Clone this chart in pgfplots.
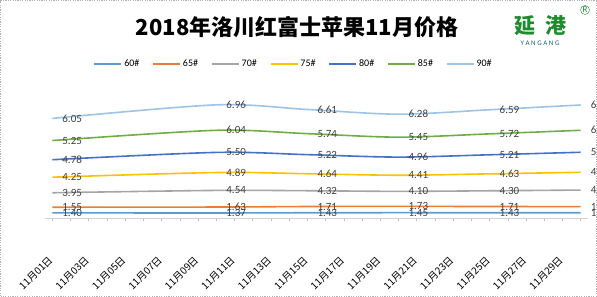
\documentclass[border=0pt]{standalone}
\usepackage{fontspec}
\setmainfont{Carlito}
\newfontfamily\cjk{Noto Sans CJK SC}
\usepackage{pgfplots}
\usepackage{pgfplotstable}
\pgfplotsset{compat=1.18}
\definecolor{cA}{HTML}{5B9BD5}
\definecolor{cB}{HTML}{ED7D31}
\definecolor{cC}{HTML}{A5A5A5}
\definecolor{cD}{HTML}{FFC000}
\definecolor{cE}{HTML}{4472C4}
\definecolor{cF}{HTML}{70AD47}
\definecolor{cG}{HTML}{9DC3E6}
\definecolor{logogreen}{HTML}{1E8C2E}
\pgfplotstableread{
x  a    b    c    d    e    f    g
1  1.40 1.55 3.95 4.25 4.78 5.25 6.05
10 1.37 1.63 4.54 4.89 5.50 6.04 6.96
15 1.43 1.71 4.32 4.64 5.22 5.74 6.61
20 1.45 1.73 4.10 4.41 4.96 5.45 6.28
25 1.43 1.71 4.30 4.63 5.21 5.72 6.59
30 1.43 1.69 4.52 4.86 5.47 6.01 6.92
}\prices
\begin{document}
\begin{tikzpicture}
\path[use as bounding box] (0pt,0pt) rectangle (597pt,297pt);
\draw[gray!60, line width=1.2pt, dash pattern=on 1.2pt off 1.2pt] (0.8pt,0.8pt) rectangle (596.2pt,296.2pt);
\node[font=\cjk\bfseries\fontsize{22}{22}\selectfont] at (297pt,270pt) {2018年洛川红富士苹果11月价格};
\node[font=\cjk\bfseries\fontsize{21}{21}\selectfont, text=logogreen] at (540pt,271pt) {延\hspace{10pt}港};
\node[font=\fontsize{7}{7}\selectfont, text=logogreen!70!blue] at (540pt,254pt) {Y A N G A N G};
\node[font=\fontsize{9}{9}\selectfont, text=logogreen, draw=logogreen, circle, inner sep=0.5pt] at (585pt,287pt) {R};
\begin{axis}[
  at={(45pt,79pt)}, anchor=south west,
  width=543pt, height=139pt, scale only axis,
  xmin=0.6, xmax=30.4, ymin=0, ymax=38,
  clip=false,
  hide y axis,
  axis x line*=bottom,
  x axis line style={draw=gray!35, line width=0.8pt},
  xtick={1,3,...,29},
  xticklabels={11月01日,11月03日,11月05日,11月07日,11月09日,11月11日,11月13日,11月15日,11月17日,11月19日,11月21日,11月23日,11月25日,11月27日,11月29日},
  minor xtick={1,...,30},
  tick align=outside,
  major tick length=3pt, minor tick length=3pt,
  every tick/.style={gray!50, line width=0.6pt},
  xticklabel style={font=\cjk\fontsize{10}{10}\selectfont, xshift=1pt, yshift=-35pt, rotate=45, anchor=east},
  stack plots=y,
  point meta=explicit,
  every axis plot/.append style={smooth, line width=1.6pt, no markers},
  nodes near coords={\pgfmathprintnumber[fixed,fixed zerofill,precision=2,assume math mode=true]{\pgfplotspointmeta}},
  nodes near coords style={font=\fontsize{11}{11}\selectfont, text=black!75, anchor=west, xshift=6pt},
  legend columns=7,
  legend style={at={(axis description cs:0.458,1.108)}, anchor=center, draw=none, fill=none,
    font=\fontsize{10}{10}\selectfont,
    /tikz/every even column/.append style={column sep=11pt}},
  legend image code/.code={\draw[#1, line width=1.6pt] (0pt,0pt) -- (27pt,0pt);},
]
\addplot[cA] table[x=x, y=a, meta=a] {\prices};
\addlegendentry{60\#}
\addplot[cB] table[x=x, y=b, meta=b] {\prices};
\addlegendentry{65\#}
\addplot[cC] table[x=x, y=c, meta=c] {\prices};
\addlegendentry{70\#}
\addplot[cD] table[x=x, y=d, meta=d] {\prices};
\addlegendentry{75\#}
\addplot[cE] table[x=x, y=e, meta=e] {\prices};
\addlegendentry{80\#}
\addplot[cF] table[x=x, y=f, meta=f] {\prices};
\addlegendentry{85\#}
\addplot[cG] table[x=x, y=g, meta=g] {\prices};
\addlegendentry{90\#}
\end{axis}
\end{tikzpicture}
\end{document}
